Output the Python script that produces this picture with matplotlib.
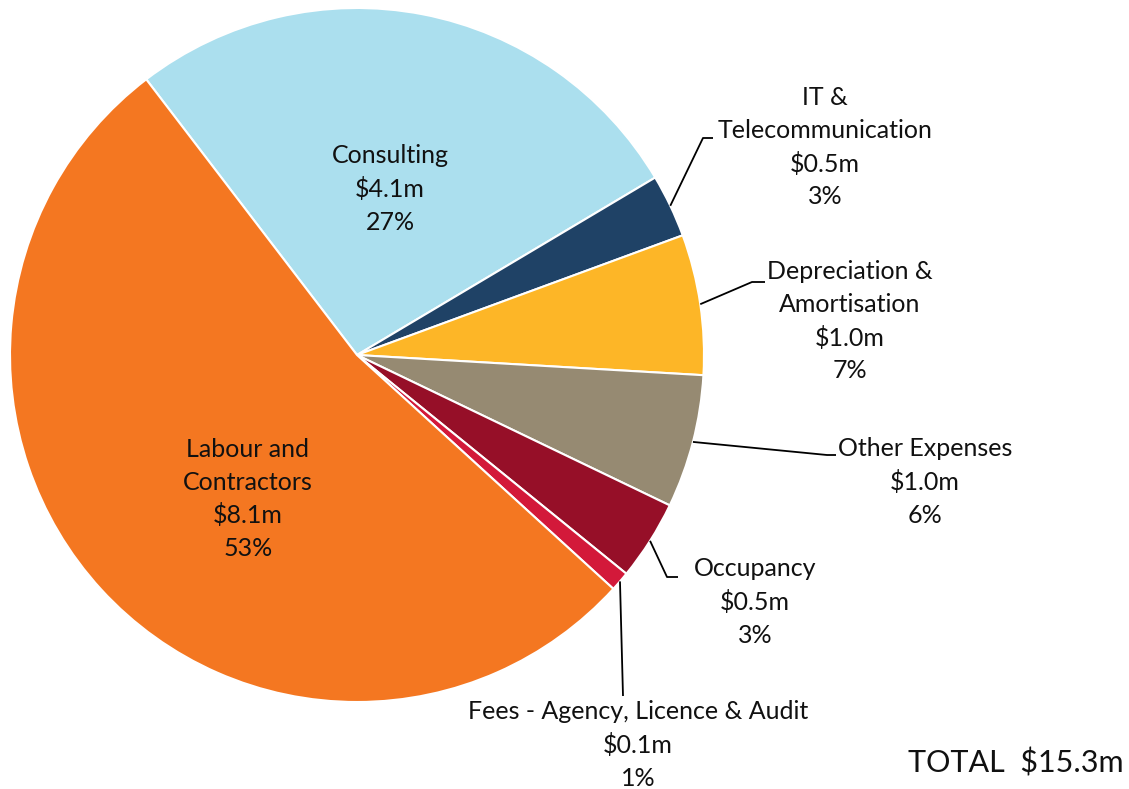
import matplotlib
matplotlib.use("Agg")
import matplotlib.pyplot as plt
import numpy as np

# Data (clockwise from Consulting)
categories = ["Consulting", "IT &\nTelecommunication", "Depreciation &\nAmortisation",
              "Other Expenses", "Occupancy", "Fees - Agency, Licence & Audit",
              "Labour and\nContractors"]
values = [4.11, 0.45, 1.00, 0.95, 0.57, 0.14, 8.09]
value_labels = ["$4.1m", "$0.5m", "$1.0m", "$1.0m", "$0.5m", "$0.1m", "$8.1m"]
pct_labels = ["27%", "3%", "7%", "6%", "3%", "1%", "53%"]
colors = ["#ABDFEE", "#1F4266", "#FDB627", "#968A72", "#960F28", "#D3193A", "#F47721"]
total_label = "TOTAL  $15.3m"

W, H = 1129, 789
fig = plt.figure(figsize=(W / 100, H / 100), dpi=100)
ax = fig.add_axes([0, 0, 1, 1])

cx, cy, R = 357, H - 355, 347
start = 127.4
wedges, _ = ax.pie(values, colors=colors, startangle=start, counterclock=False,
                   center=(cx, cy), radius=R, frame=True,
                   wedgeprops=dict(edgecolor="white", linewidth=1.5))
ax.set_xlim(0, W)
ax.set_ylim(0, H)
ax.set_aspect("equal")
ax.axis("off")

FONT = ["Lato", "DejaVu Sans"]
FS = 18

# label block centres (pixel coords, y from top) and leader elbow points
label_pos = [(390, 189), (825, 147), (850, 321), (925, 482), (755, 602), (638, 745), (248, 499)]
elbows = [None, [(703, 138), (713, 138)], [(752, 282), (765, 282)],
          [(827, 455), (836, 455)], [(667, 577), (678, 577)], [(623, 696)], None]

for w, cat, vl, pl, (lx, ly), el in zip(wedges, categories, value_labels, pct_labels, label_pos, elbows):
    txt = f"{cat}\n{vl}\n{pl}"
    ax.text(lx, H - ly, txt, ha="center", va="center", multialignment="center",
            fontsize=FS, family=FONT, linespacing=1.5, color="#111111")
    if el is not None:
        mid = np.deg2rad((w.theta1 + w.theta2) / 2)
        sx, sy = cx + R * np.cos(mid), cy + R * np.sin(mid)
        xs = [sx] + [p[0] for p in el]
        ys = [sy] + [H - p[1] for p in el]
        ax.plot(xs, ys, color="black", linewidth=1.3, solid_capstyle="butt")

ax.text(1016, H - 763, total_label, ha="center", va="center", fontsize=22, family=FONT, color="#111111")

fig.savefig("out.png", dpi=100)
